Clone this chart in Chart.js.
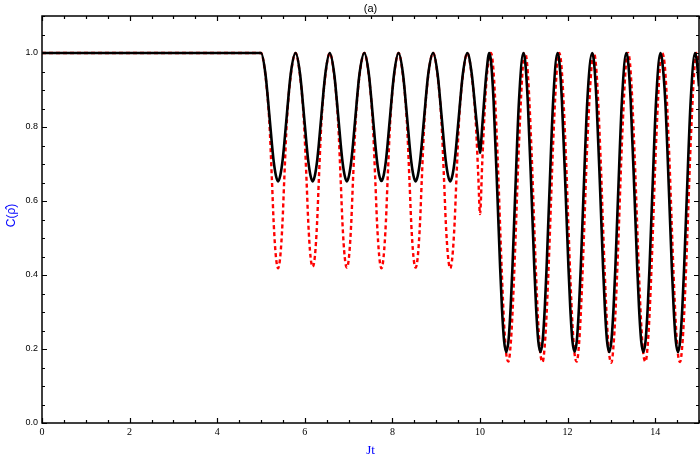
<!DOCTYPE html>
<html>
<head>
<meta charset="utf-8">
<title>C(ρ̂) vs Jt</title>
<script src="https://cdn.jsdelivr.net/npm/chart.js@4.4.1/dist/chart.umd.min.js"></script>
<style>
  html, body { margin: 0; padding: 0; background: #fff; }
  #wrap { width: 700px; height: 460px; }
</style>
</head>
<body>
<div id="wrap"><canvas id="chart" width="700" height="460"></canvas></div>
<script>
// ===============================
// DATA
// ===============================
const jt = [
  0, 5.00,
  5.10, 5.19, 5.25, 5.29, 5.34, 5.39, 5.44, 5.49, 5.53, 5.59, 5.68, 5.79,
  5.89, 5.98, 6.04, 6.08, 6.13, 6.18, 6.23, 6.28, 6.32, 6.38, 6.47, 6.57,
  6.67, 6.76, 6.82, 6.86, 6.91, 6.96, 7.01, 7.06, 7.10, 7.16, 7.25, 7.36,
  7.46, 7.55, 7.61, 7.65, 7.70, 7.75, 7.80, 7.85, 7.89, 7.95, 8.04, 8.14,
  8.24, 8.33, 8.39, 8.43, 8.48, 8.53, 8.58, 8.63, 8.67, 8.73, 8.82, 8.93,
  9.03, 9.12, 9.18, 9.22, 9.27, 9.32, 9.37, 9.42, 9.46, 9.52, 9.61, 9.71,
  9.81, 9.90, 9.96, 10.00,
  10.05, 10.10, 10.15, 10.21, 10.25,
  10.31, 10.40, 10.46, 10.50, 10.55, 10.60, 10.65, 10.70, 10.74, 10.80, 10.89, 10.99, 11.03,
  11.09, 11.18, 11.24, 11.28, 11.33, 11.38, 11.43, 11.48, 11.52, 11.58, 11.67, 11.77, 11.81,
  11.87, 11.96, 12.02, 12.06, 12.11, 12.16, 12.21, 12.26, 12.30, 12.36, 12.45, 12.56, 12.60,
  12.66, 12.75, 12.81, 12.85, 12.90, 12.95, 13.00, 13.05, 13.09, 13.15, 13.24, 13.34, 13.38,
  13.44, 13.53, 13.59, 13.63, 13.68, 13.73, 13.78, 13.83, 13.87, 13.93, 14.02, 14.12, 14.16,
  14.23, 14.32, 14.38, 14.42, 14.47, 14.52, 14.57, 14.62, 14.66, 14.72, 14.81, 14.91, 14.95,
  15.00
];

// solid black curve
const cBlack = [
  1, 1,
  0.945, 0.833, 0.753, 0.707, 0.669, 0.653, 0.669, 0.707, 0.753, 0.833, 0.945, 1,
  0.945, 0.833, 0.753, 0.707, 0.669, 0.653, 0.669, 0.707, 0.753, 0.833, 0.945, 1,
  0.945, 0.833, 0.753, 0.707, 0.669, 0.653, 0.669, 0.707, 0.753, 0.833, 0.945, 1,
  0.945, 0.833, 0.753, 0.707, 0.669, 0.654, 0.669, 0.707, 0.753, 0.833, 0.945, 1,
  0.945, 0.833, 0.753, 0.707, 0.669, 0.653, 0.669, 0.707, 0.753, 0.833, 0.945, 1,
  0.945, 0.833, 0.753, 0.707, 0.669, 0.653, 0.669, 0.707, 0.753, 0.833, 0.945, 1,
  0.945, 0.84, 0.77, 0.73,
  0.80, 0.88, 0.95, 1, 0.979,
  0.871, 0.607, 0.419, 0.313, 0.222, 0.192, 0.222, 0.313, 0.419, 0.607, 0.871, 1, 0.979,
  0.871, 0.607, 0.419, 0.313, 0.222, 0.192, 0.222, 0.313, 0.419, 0.607, 0.871, 1, 0.979,
  0.871, 0.607, 0.419, 0.313, 0.222, 0.193, 0.222, 0.313, 0.419, 0.607, 0.871, 1, 0.979,
  0.871, 0.607, 0.419, 0.313, 0.222, 0.192, 0.222, 0.313, 0.419, 0.607, 0.871, 1, 0.979,
  0.871, 0.607, 0.419, 0.313, 0.222, 0.192, 0.222, 0.313, 0.419, 0.607, 0.871, 1, 0.979,
  0.871, 0.607, 0.419, 0.313, 0.222, 0.192, 0.222, 0.313, 0.419, 0.607, 0.871, 1, 0.979,
  0.91
];

// dotted red curve
const cRed = [
  1, 1,
  0.94, 0.815, 0.655, 0.54, 0.45, 0.418, 0.45, 0.54, 0.655, 0.815, 0.94, 1,
  0.94, 0.815, 0.655, 0.54, 0.45, 0.422, 0.45, 0.54, 0.655, 0.815, 0.94, 1,
  0.94, 0.815, 0.655, 0.54, 0.45, 0.42, 0.45, 0.54, 0.655, 0.815, 0.94, 1,
  0.94, 0.815, 0.655, 0.54, 0.45, 0.418, 0.45, 0.54, 0.655, 0.815, 0.94, 1,
  0.94, 0.815, 0.655, 0.54, 0.45, 0.42, 0.45, 0.54, 0.655, 0.815, 0.94, 1,
  0.94, 0.815, 0.655, 0.54, 0.45, 0.418, 0.45, 0.54, 0.655, 0.815, 0.94, 1,
  0.94, 0.82, 0.67, 0.565,
  0.70, 0.83, 0.93, 0.985, 1,
  0.949, 0.725, 0.528, 0.401, 0.269, 0.186, 0.166, 0.212, 0.292, 0.463, 0.756, 0.982, 1,
  0.949, 0.725, 0.528, 0.401, 0.269, 0.186, 0.165, 0.212, 0.292, 0.463, 0.756, 0.982, 1,
  0.949, 0.725, 0.528, 0.401, 0.269, 0.186, 0.166, 0.212, 0.292, 0.463, 0.756, 0.982, 1,
  0.949, 0.725, 0.528, 0.401, 0.269, 0.186, 0.163, 0.212, 0.292, 0.463, 0.756, 0.982, 1,
  0.949, 0.725, 0.528, 0.401, 0.269, 0.186, 0.166, 0.212, 0.292, 0.463, 0.756, 0.982, 1,
  0.949, 0.725, 0.528, 0.401, 0.269, 0.186, 0.165, 0.212, 0.292, 0.463, 0.756, 0.982, 1,
  0.965
];

const xTicks = [0, 2, 4, 6, 8, 10, 12, 14];
const yTicks = [0, 0.2, 0.4, 0.6, 0.8, 1.0];

// ===============================
// FRAME, INWARD TICKS, TITLES
// ===============================
const framePlugin = {
  id: "frame",
  afterDraw(chart) {
    const { ctx, chartArea: a, scales: { x, y } } = chart;
    ctx.save();
    ctx.strokeStyle = "#000";
    ctx.lineWidth = 1.5;
    ctx.strokeRect(a.left, a.top, a.right - a.left, a.bottom - a.top);

    ctx.lineWidth = 1.2;
    ctx.beginPath();
    for (let i = 0; i <= 30; i++) {
      const px = Math.round(x.getPixelForValue(i * 0.5)) + 0.5;
      const len = (i % 4 === 0) ? 5 : 3;
      ctx.moveTo(px, a.bottom); ctx.lineTo(px, a.bottom - len);
      ctx.moveTo(px, a.top); ctx.lineTo(px, a.top + len);
    }
    for (let i = 0; i <= 22; i++) {
      const py = Math.round(y.getPixelForValue(i * 0.05)) + 0.5;
      const len = (i % 4 === 0) ? 5 : 3;
      ctx.moveTo(a.left, py); ctx.lineTo(a.left + len, py);
      ctx.moveTo(a.right, py); ctx.lineTo(a.right - len, py);
    }
    ctx.stroke();

    // title
    ctx.fillStyle = "#000";
    ctx.font = "11px 'Liberation Sans', sans-serif";
    ctx.textAlign = "center";
    ctx.textBaseline = "middle";
    ctx.fillText("(a)", (a.left + a.right) / 2, 9);

    // axis titles
    ctx.fillStyle = "#0000ff";
    ctx.font = "13px 'Liberation Serif', serif";
    ctx.fillText("Jt", (a.left + a.right) / 2, 451);

    ctx.translate(12, (a.top + a.bottom) / 2 - 4);
    ctx.rotate(-Math.PI / 2);
    ctx.font = "12px 'Liberation Sans', sans-serif";
    ctx.fillText("C(\u03C1\u0302)", 0, 0);
    ctx.restore();
  }
};

// ===============================
// CHART
// ===============================
const ctx = document.getElementById("chart").getContext("2d");

new Chart(ctx, {
  type: "line",
  data: {
    labels: jt,
    datasets: [
      {
        label: "black",
        data: jt.map((t, i) => ({ x: t, y: cBlack[i] })),
        borderColor: "#000000",
        borderWidth: 2.6,
        pointRadius: 0,
        cubicInterpolationMode: "monotone",
        fill: false
      },
      {
        label: "red",
        data: jt.map((t, i) => ({ x: t, y: cRed[i] })),
        borderColor: "#ff0000",
        borderWidth: 2.4,
        borderDash: [4, 3],
        pointRadius: 0,
        cubicInterpolationMode: "monotone",
        fill: false
      }
    ]
  },
  options: {
    responsive: false,
    animation: false,
    layout: { padding: { top: 16, right: 1, left: 0, bottom: 0 } },
    plugins: {
      legend: { display: false },
      tooltip: { enabled: false },
      title: { display: false }
    },
    scales: {
      x: {
        type: "linear",
        min: 0,
        max: 15,
        grid: { display: false, drawTicks: false },
        border: { display: false },
        afterFit: s => { s.height = 37; },
        afterBuildTicks: s => { s.ticks = xTicks.map(v => ({ value: v })); },
        ticks: {
          padding: 3,
          maxRotation: 0,
          color: "#000",
          font: { family: "'Liberation Serif', serif", size: 10 },
          callback: v => String(v)
        }
      },
      y: {
        type: "linear",
        min: 0,
        max: 1.1,
        grid: { display: false, drawTicks: false },
        border: { display: false },
        afterFit: s => { s.width = 42; },
        afterBuildTicks: s => { s.ticks = yTicks.map(v => ({ value: v })); },
        ticks: {
          padding: 4,
          color: "#000",
          font: { family: "'Liberation Sans', sans-serif", size: 9 },
          callback: v => v.toFixed(1)
        }
      }
    }
  },
  plugins: [framePlugin]
});
</script>
</body>
</html>
